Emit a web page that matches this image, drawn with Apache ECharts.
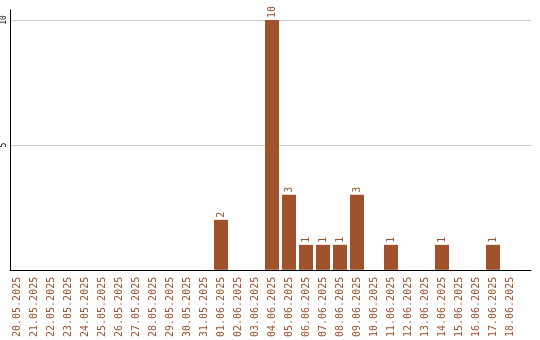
<!DOCTYPE html>
<html>
<head>
<meta charset="utf-8">
<script src="https://cdn.jsdelivr.net/npm/echarts@6/dist/echarts.min.js"></script>
<style>html,body{margin:0;padding:0;background:#fff;}#c{width:540px;height:340px;}</style>
</head>
<body>
<div id="c"></div>
<script>
const categories = ['20.05.2025','21.05.2025','22.05.2025','23.05.2025','24.05.2025','25.05.2025','26.05.2025','27.05.2025','28.05.2025','29.05.2025','30.05.2025','31.05.2025','01.06.2025','02.06.2025','03.06.2025','04.06.2025','05.06.2025','06.06.2025','07.06.2025','08.06.2025','09.06.2025','10.06.2025','11.06.2025','12.06.2025','13.06.2025','14.06.2025','15.06.2025','16.06.2025','17.06.2025','18.06.2025'];
const values = [0,0,0,0,0,0,0,0,0,0,0,0,2,0,0,10,3,1,1,1,3,0,1,0,0,1,0,0,1,0];
const yTicks = [0,5,10];

const barColor = '#a0522d';
const chart = echarts.init(document.getElementById('c'), null, {renderer:'canvas'});
chart.setOption({
  animation:false,
  grid:[
    {left:10, right:9, top:10, bottom:70, containLabel:false},
    {left:8.5, width:510, top:10, bottom:70, containLabel:false}
  ],
  xAxis:[
    {gridIndex:0, type:'value', min:0, max:1, axisLine:{show:true, onZero:false, lineStyle:{color:'#000', width:1}},
     axisTick:{show:false}, axisLabel:{show:false}, splitLine:{show:false}},
    {gridIndex:1, type:'category', data:categories, axisLine:{show:false}, axisTick:{show:false},
     axisLabel:{rotate:90, interval:0, color:barColor, fontFamily:'DejaVu Sans Mono', fontSize:10, margin:7},
     splitLine:{show:false}}
  ],
  yAxis:[
    {gridIndex:0, type:'value', min:0, max:10.4, interval:5,
     axisLine:{show:true, lineStyle:{color:'#000', width:1}}, axisTick:{show:false},
     axisLabel:{rotate:90, color:'#000', fontFamily:'DejaVu Sans Mono', fontSize:8, margin:2,
       formatter:function(v){return yTicks.indexOf(v)>=0 && v!==0 ? String(v) : '';}},
     splitLine:{show:true, lineStyle:{color:['#cccccc','#cccccc','#cccccc','rgba(0,0,0,0)'], width:1}}},
    {gridIndex:1, type:'value', min:0, max:10.4, show:false}
  ],
  series:[{
    type:'bar', xAxisIndex:1, yAxisIndex:1, data:values, barWidth:14,
    itemStyle:{color:barColor},
    label:{show:true, position:'top', rotate:90, align:'left', verticalAlign:'middle', distance:2,
      color:barColor, fontFamily:'DejaVu Sans Mono', fontSize:10,
      formatter:function(p){return p.value ? String(p.value) : '';}}
  }]
});
</script>
</body>
</html>
